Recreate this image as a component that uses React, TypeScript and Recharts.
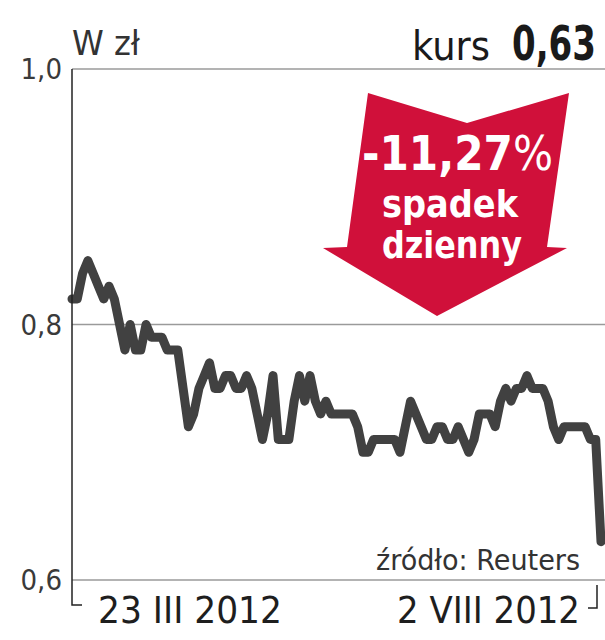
import React from 'react';
import { LineChart, Line, XAxis, YAxis, CartesianGrid } from 'recharts';

// kurs zamknięcia, sesja po sesji (zł)
const prices = [
  0.82, 0.82, 0.84, 0.85, 0.84, 0.83, 0.82, 0.83, 0.82, 0.80,
  0.78, 0.80, 0.78, 0.78, 0.80, 0.79, 0.79, 0.79, 0.78, 0.78,
  0.78, 0.75, 0.72, 0.73, 0.75, 0.76, 0.77, 0.75, 0.75, 0.76,
  0.76, 0.75, 0.75, 0.76, 0.75, 0.73, 0.71, 0.73, 0.76, 0.71,
  0.71, 0.71, 0.74, 0.76, 0.74, 0.76, 0.74, 0.73, 0.74, 0.73,
  0.73, 0.73, 0.73, 0.73, 0.72, 0.70, 0.70, 0.71, 0.71, 0.71,
  0.71, 0.71, 0.70, 0.72, 0.74, 0.73, 0.72, 0.71, 0.71, 0.72,
  0.72, 0.71, 0.71, 0.72, 0.71, 0.70, 0.71, 0.73, 0.73, 0.73,
  0.72, 0.74, 0.75, 0.74, 0.75, 0.75, 0.76, 0.75, 0.75, 0.75,
  0.74, 0.72, 0.71, 0.72, 0.72, 0.72, 0.72, 0.72, 0.71, 0.71,
  0.63,
];
const dateLabels = ['23 III 2012', '2 VIII 2012'];
const yTicks = [0.6, 0.8, 1.0];

const data = prices.map((kurs, i) => ({ i, kurs }));
const lastIdx = prices.length - 1;

const FONT = "'DejaVu Sans Condensed', 'Liberation Sans Narrow', 'DejaVu Sans', sans-serif";

const DateTick = ({ x, y, payload }: any) => {
  if (payload.value === 0) {
    return (
      <g>
        <path d={`M${x} ${y} V${y + 25} H${x + 10}`} stroke="#222" strokeWidth={1.5} fill="none" />
        <text x={x + 26} y={y + 43} fontFamily={FONT} fontStretch="condensed" fontSize={38} fill="#1e1e1e"
          textLength={184} lengthAdjust="spacingAndGlyphs">{dateLabels[0]}</text>
      </g>
    );
  }
  return (
    <g>
      <path d={`M${x - 13} ${y + 28} H${x - 4} V${y + 5}`} stroke="#222" strokeWidth={1.5} fill="none" />
      <text x={x - 21} y={y + 43} textAnchor="end" fontFamily={FONT} fontStretch="condensed" fontSize={38}
        fill="#1e1e1e" textLength={183} lengthAdjust="spacingAndGlyphs">{dateLabels[1]}</text>
    </g>
  );
};

export default function App() {
  return (
    <div style={{ position: 'absolute', left: 0, top: 0, width: 605, height: 640, background: '#fff' }}>
      <LineChart width={605} height={640} data={data} margin={{ top: 69, right: 0, bottom: 0, left: 0 }}>
        <CartesianGrid vertical={false} stroke="#9a9a9a" strokeWidth={1.5} />
        <XAxis
          dataKey="i"
          type="number"
          domain={[0, lastIdx]}
          ticks={[0, lastIdx]}
          padding={{ left: 0, right: 4 }}
          axisLine={false}
          tickLine={false}
          tickSize={0}
          tickMargin={0}
          height={60}
          tick={<DateTick />}
          interval={0}
        />
        <YAxis
          domain={[0.6, 1.0]}
          ticks={yTicks}
          width={72}
          axisLine={{ stroke: '#222', strokeWidth: 1.5 }}
          tickLine={false}
          tickSize={0}
          tickMargin={10}
          tickFormatter={(v: number) => v.toFixed(1).replace('.', ',')}
          tick={{ fill: '#3a3a3a', fontSize: 29, fontFamily: FONT, fontWeight: 300 }}
        />
        <Line
          type="linear"
          dataKey="kurs"
          stroke="#414141"
          strokeWidth={9}
          strokeLinejoin="round"
          strokeLinecap="round"
          dot={false}
          isAnimationActive={false}
        />
      </LineChart>
      <svg width={605} height={640} style={{ position: 'absolute', left: 0, top: 0, pointerEvents: 'none' }}>
        <text x={72} y={55} fontFamily={FONT} fontStretch="condensed" fontSize={33} fill="#333"
          fontWeight={300} textLength={68} lengthAdjust="spacingAndGlyphs">W zł</text>
        <text x={412} y={60} fontFamily={FONT} fontStretch="condensed" fontSize={40} fill="#1a1a1a"
          textLength={78} lengthAdjust="spacingAndGlyphs">kurs</text>
        <text x={512} y={60} fontFamily={FONT} fontStretch="condensed" fontSize={48} fontWeight="bold"
          fill="#1a1a1a" textLength={84} lengthAdjust="spacingAndGlyphs">0,63</text>
        <polygon
          points="368,93 467,123 569,93 547,247 567,248 437,316 323,248 347,247"
          fill="#d0103a"
        />
        <text x={362} y={170} fontFamily={FONT} fontStretch="condensed" fontSize={48} fill="#fff"
          fontWeight="bold" textLength={191} lengthAdjust="spacingAndGlyphs">
          -11,27<tspan fontWeight="normal">%</tspan>
        </text>
        <text x={382} y={217} fontFamily={FONT} fontStretch="condensed" fontSize={38} fill="#fff"
          fontWeight="bold" textLength={136} lengthAdjust="spacingAndGlyphs">spadek</text>
        <text x={382} y={258} fontFamily={FONT} fontStretch="condensed" fontSize={38} fill="#fff"
          fontWeight="bold" textLength={140} lengthAdjust="spacingAndGlyphs">dzienny</text>
        <text x={580} y={570} textAnchor="end" fontFamily={FONT} fontStretch="condensed" fontSize={29}
          fill="#333" fontWeight={300} textLength={204} lengthAdjust="spacingAndGlyphs">źródło: Reuters</text>
      </svg>
    </div>
  );
}
